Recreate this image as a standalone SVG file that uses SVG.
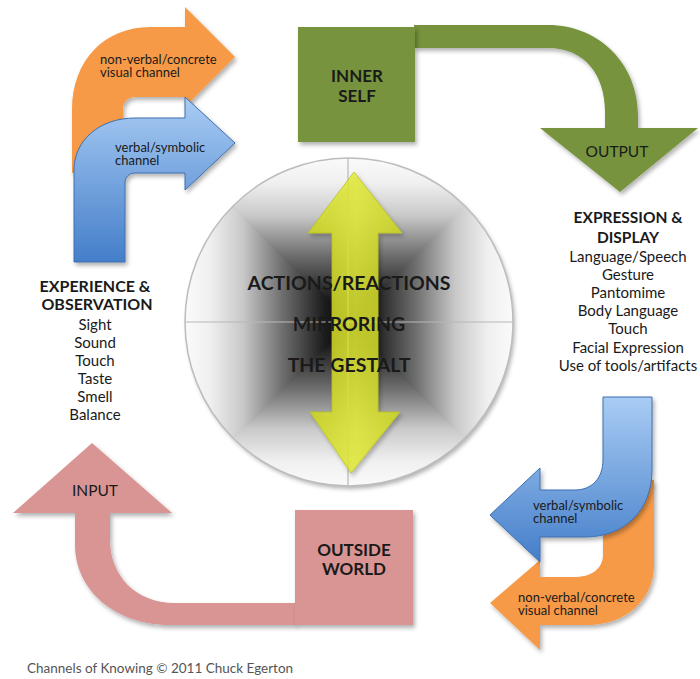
<svg xmlns="http://www.w3.org/2000/svg" width="700" height="679" viewBox="0 0 700 679">
<defs>
<style>
.t{font-family:Lato,"Liberation Sans",sans-serif;fill:#1a1a1a}
.h{font-size:17px;font-weight:bold;text-anchor:middle}
.l{font-size:15px;text-anchor:middle}
.c{font-size:13px}
.orange{fill:#f79a47}
.blue{stroke:#3e6faf;stroke-width:1}
.axis{stroke:#b8b8b8;stroke-width:1.2}
</style>
<filter id="sh" x="-20%" y="-20%" width="140%" height="140%">
<feDropShadow dx="2" dy="3" stdDeviation="2" flood-color="#000" flood-opacity="0.3"/>
</filter>
<linearGradient id="gBlue" x1="0" y1="0" x2="0" y2="1">
<stop offset="0" stop-color="#a9ccf4"/>
<stop offset="1" stop-color="#447ec9"/>
</linearGradient>
<linearGradient id="gYel" x1="0" y1="0" x2="1" y2="0">
<stop offset="0" stop-color="#cfd81c"/>
<stop offset="0.5" stop-color="#e3ec35"/>
<stop offset="1" stop-color="#cfd81c"/>
</linearGradient>
<linearGradient id="gUp" gradientUnits="userSpaceOnUse" x1="349" y1="322" x2="349" y2="158">
<stop offset="0" stop-color="#050505"/>
<stop offset="0.15" stop-color="#1c1c1c"/>
<stop offset="0.4" stop-color="#6c6c6c"/>
<stop offset="0.65" stop-color="#c9c9c9"/>
<stop offset="0.85" stop-color="#f0f0f0"/>
<stop offset="1" stop-color="#fafafa"/>
</linearGradient>
<linearGradient id="gDown" href="#gUp" gradientUnits="userSpaceOnUse" x1="349" y1="322" x2="349" y2="486"/>
<linearGradient id="gLeft" href="#gUp" gradientUnits="userSpaceOnUse" x1="349" y1="322" x2="185" y2="322"/>
<linearGradient id="gRight" href="#gUp" gradientUnits="userSpaceOnUse" x1="349" y1="322" x2="513" y2="322"/>
<clipPath id="circ"><circle cx="349" cy="322" r="164"/></clipPath>
</defs>
<rect width="700" height="679" fill="#fff"/>

<g id="center">
<circle cx="349" cy="322" r="164" fill="#888" filter="url(#sh)"/>
<g clip-path="url(#circ)">
<polygon points="349,322 185,158 513,158" fill="url(#gUp)"/>
<polygon points="349,322 185,486 513,486" fill="url(#gDown)"/>
<polygon points="351,322 183,156 183,488" fill="url(#gLeft)"/>
<polygon points="347,322 515,156 515,488" fill="url(#gRight)"/>
<line class="axis" x1="348" y1="158" x2="348" y2="486"/>
<line class="axis" x1="185" y1="322" x2="513" y2="322"/>
</g>
<circle cx="349" cy="322" r="164" fill="none" stroke="#bdbdbd" stroke-width="1.5"/>
<path d="M354,172 L402,233 L378,233 L378,412 L400,412 L351,473 L310,412 L332,412 L332,233 L308,233 Z" fill="url(#gYel)" fill-opacity="0.82" stroke="#b9c21c" stroke-width="0.8" filter="url(#sh)"/>
<text class="t h" x="349" y="290" style="font-size:19.5px">ACTIONS/REACTIONS</text>
<text class="t h" x="349" y="331" style="font-size:19.5px">MIRRORING</text>
<text class="t h" x="349" y="372" style="font-size:19.5px">THE GESTALT</text>
</g>

<g id="connectors">
<g id="output-arrow">
<path d="M414,25 H548 C600,25 638,65 638,115 V128 H698 L620,192 L540,128 H605 V112 C605,75 585,48 548,48 H414 Z" fill="#77933c" filter="url(#sh)"/>
<text class="t" x="617" y="157" style="font-size:15.5px;text-anchor:middle">OUTPUT</text>
</g>
<g id="input-arrow">
<path d="M296,603 H175 C135,603 110,575 110,540 V513 H172 L92,443 L13,513 H75 V545 C75,590 115,625 170,625 H296 Z" fill="#d99594" filter="url(#sh)"/>
<text class="t" x="95" y="496" style="font-size:15.5px;text-anchor:middle">INPUT</text>
</g>
<g id="in-nonverbal">
<path class="orange" d="M72,173 V110 C72,60 105,27 150,27 H185 V7 L235,57 L185,107 V97 H135 C128,97 123,102 123,110 V173 Z" filter="url(#sh)"/>
<text class="t c" x="100" y="64">non-verbal/concrete</text>
<text class="t c" x="100" y="77">visual channel</text>
</g>
<g id="in-verbal">
<path class="blue" d="M74,262 V170 C74,140 100,118 135,118 H185 V97 L235,143 L185,190 V173 H135 C129,173 125,177 125,183 V262 Z" fill="url(#gBlue)" filter="url(#sh)"/>
<text class="t c" x="115" y="152">verbal/symbolic</text>
<text class="t c" x="115" y="165">channel</text>
</g>
<g id="out-nonverbal">
<path class="orange" d="M603,480 H654 V565 C654,600 625,625 588,625 H540 V650 L490,603 L540,560 V577 H575 C592,577 603,568 603,555 Z" filter="url(#sh)"/>
<text class="t c" x="518" y="602">non-verbal/concrete</text>
<text class="t c" x="518" y="615">visual channel</text>
</g>
<g id="out-verbal">
<path class="blue" d="M603,397 H652 V470 C652,510 625,537 585,537 H540 V562 L490,515 L540,468 V490 H575 C592,490 603,478 603,460 Z" fill="url(#gBlue)" filter="url(#sh)"/>
<text class="t c" x="533" y="510">verbal/symbolic</text>
<text class="t c" x="533" y="523">channel</text>
</g>
</g>

<g id="inner-self">
<rect x="298" y="27" width="117" height="115" fill="#77933c" filter="url(#sh)"/>
<text class="t h" x="357" y="82">INNER</text>
<text class="t h" x="357" y="102">SELF</text>
</g>

<g id="outside-world">
<rect x="295" y="510" width="118" height="115" fill="#d99594" filter="url(#sh)"/>
<text class="t h" x="354" y="556">OUTSIDE</text>
<text class="t h" x="354" y="575">WORLD</text>
</g>

<g id="expression">
<text class="t h" x="628" y="223" style="font-size:15.5px">EXPRESSION &amp;</text>
<text class="t h" x="628" y="243" style="font-size:15.5px">DISPLAY</text>
<text class="t l" x="628" y="262">Language/Speech</text>
<text class="t l" x="628" y="280">Gesture</text>
<text class="t l" x="628" y="298">Pantomime</text>
<text class="t l" x="628" y="316">Body Language</text>
<text class="t l" x="628" y="334">Touch</text>
<text class="t l" x="628" y="353">Facial Expression</text>
<text class="t l" x="628" y="371">Use of tools/artifacts</text>
</g>

<g id="experience">
<text class="t h" x="95" y="292" style="font-size:16px">EXPERIENCE &amp;</text>
<text class="t h" x="97" y="310" style="font-size:16px">OBSERVATION</text>
<text class="t l" x="95" y="330">Sight</text>
<text class="t l" x="95" y="348">Sound</text>
<text class="t l" x="95" y="366">Touch</text>
<text class="t l" x="95" y="384">Taste</text>
<text class="t l" x="95" y="402">Smell</text>
<text class="t l" x="95" y="420">Balance</text>
</g>

<text id="footer" class="t" x="27" y="673" style="font-size:13.5px;fill:#555">Channels of Knowing © 2011 Chuck Egerton</text>
</svg>
